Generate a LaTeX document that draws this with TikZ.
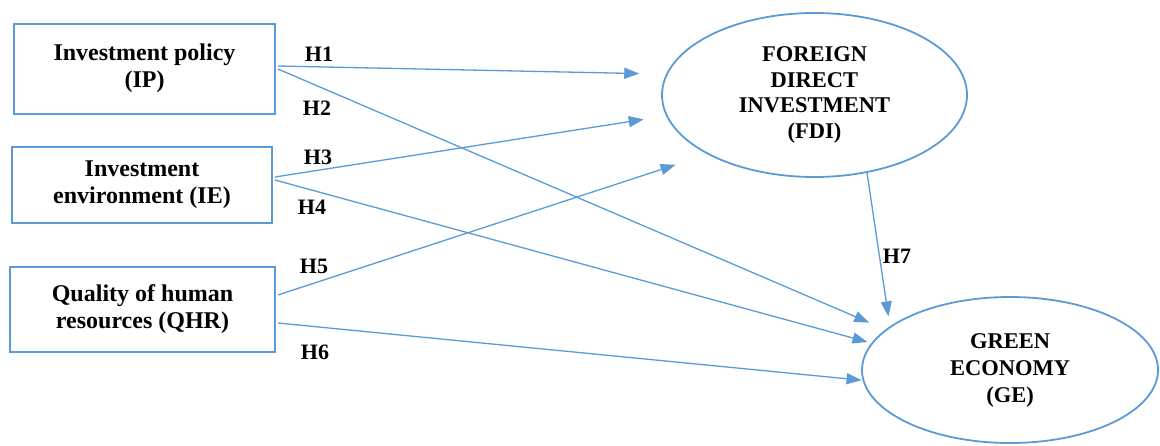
\documentclass[tikz,border=0pt]{standalone}
\usepackage{fontspec}
\setmainfont{Liberation Serif}
\usetikzlibrary{arrows.meta,shapes.geometric}
\definecolor{lnblue}{RGB}{91,155,213}
\begin{document}
\begin{tikzpicture}[x=1pt,y=-1pt,
  box/.style={draw=lnblue, line width=1.8pt, inner sep=0pt, align=center,
    font=\bfseries\fontsize{24}{27}\selectfont},
  ell/.style={ellipse, draw=lnblue, line width=1.8pt, inner sep=0pt, align=center,
    font=\bfseries\fontsize{22.5}{25.5}\selectfont},
  hyp/.style={inner sep=0pt, font=\bfseries\fontsize{22}{26}\selectfont},
  link/.style={draw=lnblue, line width=1.3pt, -{Triangle[length=15pt,width=11pt]}}]
\useasboundingbox (0,0) rectangle (1160,445);
% constructs
\node[box, minimum width=261pt, minimum height=90pt] (ip) at (144.5,69)
  {\raisebox{7pt}{\begin{tabular}{@{}c@{}}Investment policy\\(IP)\end{tabular}}};
\node[box, minimum width=260pt, minimum height=76pt] (ie) at (142,185)
  {Investment\\environment (IE)};
\node[box, minimum width=265pt, minimum height=85pt] (qhr) at (142.5,309.5)
  {Quality of human\\resources (QHR)};
\node[ell, minimum width=305pt, minimum height=164pt] (fdi) at (814.5,95)
  {FOREIGN\\DIRECT\\INVESTMENT\\(FDI)};
\node[ell, minimum width=296pt, minimum height=146pt, font=\bfseries\fontsize{22.5}{27}\selectfont] (ge) at (1010,370)
  {GREEN\\ECONOMY\\(GE)};
% paths
\draw[link, shorten >=26.8pt] ([xshift=2pt,yshift=3pt]ip.east) -- (fdi.172.1);
\draw[link, shorten >=17.6pt] ([xshift=2pt,yshift=0pt]ip.east) -- (ge.162.1);
\draw[link, shorten >=22.6pt] ([xshift=2pt,yshift=8pt]ie.east) -- (fdi.188.35);
\draw[link, shorten >=4pt] ([xshift=2pt,yshift=5pt]ie.east) -- (ge.169.85);
\draw[link, shorten >=33.5pt] ([xshift=2pt,yshift=14.5pt]qhr.east) -- (fdi.209.65);
\draw[link, shorten >=1pt] ([xshift=2pt,yshift=-13.5pt]qhr.east) -- (ge.184.74);
\draw[link, shorten >=10pt] (fdi.304.4) -- (ge.160.2);
% hypothesis labels
\node[hyp] (h1) at (319,54) {H1};
\node[hyp] (h2) at (317,108) {H2};
\node[hyp] (h3) at (318,157) {H3};
\node[hyp] (h4) at (312,207) {H4};
\node[hyp] (h5) at (314,266) {H5};
\node[hyp] (h6) at (315,352) {H6};
\node[hyp] (h7) at (897,256) {H7};
\end{tikzpicture}
\end{document}
